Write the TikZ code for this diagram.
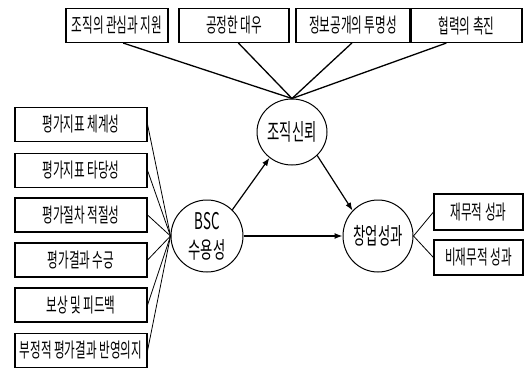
\documentclass[tikz,border=0pt]{standalone}
\usepackage{fontspec}
\newfontfamily\kr[FakeStretch=0.58]{Noto Sans CJK KR}
\usetikzlibrary{arrows.meta,calc,shapes.geometric}
\begin{document}
\begin{tikzpicture}[x=1pt,y=-1pt,
  txt/.style={font=\kr\fontsize{20}{22}\selectfont},
  box/.style={txt,draw,line width=1.1pt,inner sep=0pt,minimum height=34pt},
  lat/.style={font=\kr\fontsize{23}{26}\selectfont,draw,ellipse,line width=1pt,inner sep=0pt,align=center},
  fan/.style={line width=1.3pt},
  thin/.style={line width=0.8pt},
  arr/.style={line width=1.2pt,-{Latex[length=8pt,width=6pt]}}
]
\useasboundingbox (0,0) rectangle (525,370);
% top boxes
\node[box,minimum width=102pt] (t1) at (117,25.5) {조직의 관심과 지원};
\node[box,minimum width=110pt] (t2) at (234,25.5) {공정한 대우};
\node[box,minimum width=114pt] (t3) at (353,25.5) {정보공개의 투명성};
\node[box,minimum width=111pt] (t4) at (466.5,25.5) {협력의 촉진};
% left boxes
\node[box,minimum width=132pt] (l1) at (81,124.5) {평가지표 체계성};
\node[box,minimum width=132pt] (l2) at (81,170.5) {평가지표 타당성};
\node[box,minimum width=132pt] (l3) at (81,215) {평가절차 적절성};
\node[box,minimum width=132pt] (l4) at (81,260) {평가결과 수긍};
\node[box,minimum width=132pt] (l5) at (81,305) {보상 및 피드백};
\node[box,minimum width=132pt] (l6) at (81,350.5) {부정적 평가결과 반영의지};
% right boxes
\node[box,minimum width=89pt,minimum height=36pt] (r1) at (478.5,212) {재무적 성과};
\node[box,minimum width=89pt,minimum height=35pt] (r2) at (478.5,257.5) {비재무적 성과};
% latent variables
\node[lat,minimum width=70pt,minimum height=66pt] (trust) at (292,132) {조직신뢰};
\node[lat,minimum width=72pt,minimum height=72pt] (bsc) at (207,236) {BSC\\[3pt]수용성};
\node[lat,minimum width=70pt,minimum height=72pt] (perf) at (378,236) {창업성과};
% fan top
\draw[fan] ($(t1.south west)!0.56!(t1.south east)$) -- (trust.north);
\draw[fan] ($(t2.south west)!0.54!(t2.south east)$) -- (trust.north);
\draw[fan] ($(t3.south west)!0.49!(t3.south east)$) -- (trust.north);
\draw[fan] ($(t4.south west)!0.32!(t4.south east)$) -- (trust.north);
% fan left
\foreach \n in {l1,l2,l3,l4,l5,l6} \draw[thin] (\n.east) -- (bsc.west);
% fan right
\draw[thin] (perf.east) -- (r1.west);
\draw[thin] (perf.east) -- (r2.west);
% paths
\draw[arr] (bsc.46) -- (trust.229);
\draw[arr] (trust.-43) -- (perf.135);
\draw[arr] (bsc.east) -- (perf.west);
\end{tikzpicture}
\end{document}
